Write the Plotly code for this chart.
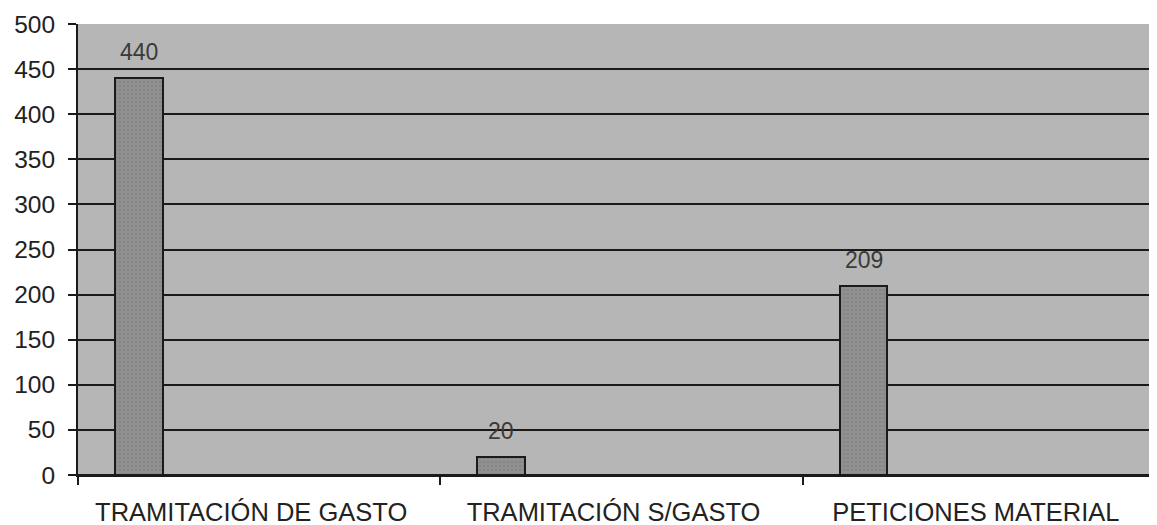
import plotly.graph_objects as go

categories = ["TRAMITACIÓN DE GASTO", "TRAMITACIÓN S/GASTO", "PETICIONES MATERIAL"]
values = [440, 20, 209]
y_ticks = [0, 50, 100, 150, 200, 250, 300, 350, 400, 450, 500]

BAR_OFFSET = -0.398
BAR_WIDTH = 0.132
FONT = "Liberation Sans, Arial, sans-serif"

fig = go.Figure()
fig.add_trace(go.Bar(
    x=categories, y=values,
    width=BAR_WIDTH, offset=BAR_OFFSET,
    marker=dict(color="#8c8c8c", line=dict(color="#1a1a1a", width=2),
                pattern=dict(shape=".", fgcolor="#7a7a7a", bgcolor="#909090", size=4, solidity=0.3)),
))

for i, v in enumerate(values):
    fig.add_annotation(
        x=i + BAR_OFFSET + BAR_WIDTH / 2, y=v, xref="x", yref="y",
        text=str(v), showarrow=False, yanchor="middle", yshift=26,
        font=dict(family=FONT, size=23, color="#3a3a3a"),
    )

fig.update_layout(
    width=1157, height=525,
    margin=dict(l=70, r=0, t=16, b=58),
    paper_bgcolor="white",
    plot_bgcolor="#b6b6b6",
    showlegend=False,
    bargap=0,
    font=dict(family=FONT, size=24, color="#222222"),
)
fig.update_xaxes(
    type="category", range=[-0.5, 2.5],
    showline=True, linecolor="#1a1a1a", linewidth=2,
    ticks="outside", ticklen=8, tickcolor="#1a1a1a", tickwidth=1.5,
    tickson="boundaries", showgrid=False,
    tickfont=dict(size=25.5), ticklabelstandoff=13, ticklabelshift=-8,
)
fig.update_yaxes(
    range=[0, 500], tickvals=y_ticks,
    showline=True, linecolor="#1a1a1a", linewidth=2,
    ticks="outside", ticklen=8, tickcolor="#1a1a1a", tickwidth=1.5,
    showgrid=True, gridcolor="#1a1a1a", gridwidth=1.5,
    zeroline=True, zerolinecolor="#1a1a1a", zerolinewidth=2,
    tickfont=dict(size=24.5), ticklabelstandoff=8,
)

fig.write_html("out.html")
